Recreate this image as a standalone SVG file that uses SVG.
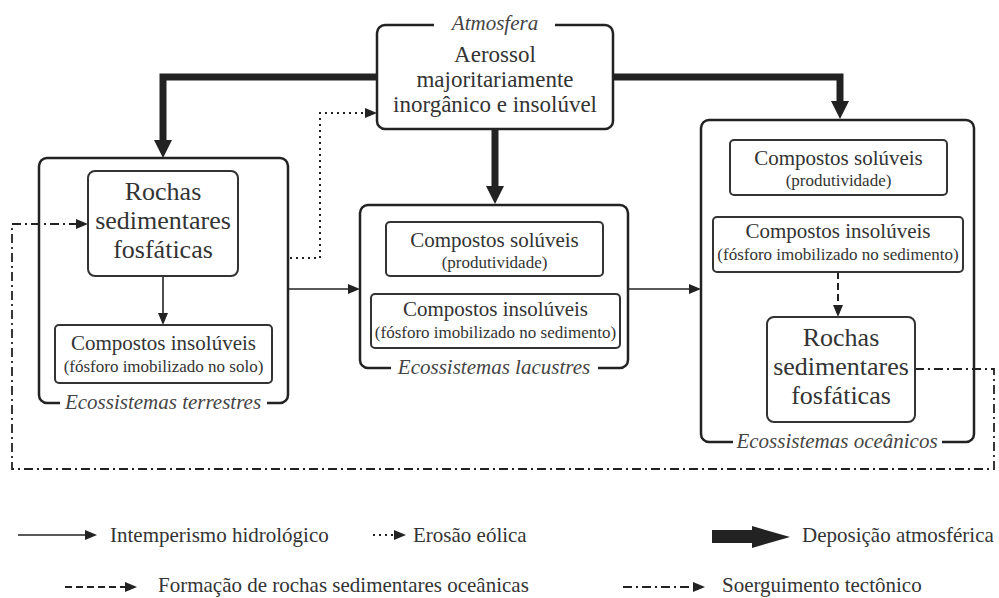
<svg xmlns="http://www.w3.org/2000/svg" width="999" height="598" viewBox="0 0 999 598" font-family="Liberation Serif, DejaVu Serif, serif">
<style>
text{font-family:'Liberation Serif',serif;fill:#333}
.outer{fill:none;stroke:#222;stroke-width:2.5}
.inner{fill:#fff;stroke:#333;stroke-width:2}
.lab{font-style:italic;font-size:21px;fill:#444}
.big{font-size:26px}
.mid{font-size:21px}
.sub{font-size:17px}
.atm{font-size:23px}
.leg{font-size:21px}
.thin{fill:none;stroke:#222;stroke-width:1.6}
.thick{fill:none;stroke:#222;stroke-width:7}
.dot{stroke-dasharray:2 4;stroke-width:2}
.dash{stroke-dasharray:7 4;stroke-width:2}
.dd{stroke-dasharray:9 4 2 4;stroke-width:1.8}
</style>
<defs>
<marker id="ah" markerUnits="userSpaceOnUse" markerWidth="12" markerHeight="10" viewBox="0 0 12 10" refX="0" refY="5" orient="auto"><path d="M0,0 L12,5 L0,10 z" fill="#222"/></marker>
<marker id="big" markerUnits="userSpaceOnUse" markerWidth="18" markerHeight="18" viewBox="0 0 18 18" refX="0" refY="9" orient="auto"><path d="M0,0 L18,9 L0,18 z" fill="#222"/></marker>
</defs>
<rect width="999" height="598" fill="#fff"/>

<g id="connectors">
<path class="thick" d="M377,77 H163 V140" marker-end="url(#big)"/>
<path class="thick" d="M612,77 H840 V101" marker-end="url(#big)"/>
<path class="thick" d="M495,129 V186" marker-end="url(#big)"/>
<path class="thin" d="M163,276 V313" marker-end="url(#ah)"/>
<path class="thin" d="M288,289 H348" marker-end="url(#ah)"/>
<path class="thin" d="M628,289 H689" marker-end="url(#ah)"/>
<path class="thin dot" d="M290,258 H320 V113 H365" marker-end="url(#ah)"/>
<path class="thin dash" d="M838,272 V305" marker-end="url(#ah)"/>
<path class="thin dd" d="M915,369 H994 V469 H12 V224 H76" marker-end="url(#ah)"/>
</g>

<g id="atmosfera">
<rect x="377" y="25" width="236" height="104" rx="8" class="inner" style="stroke:#222;stroke-width:2.5"/>
<rect x="434" y="15" width="121" height="20" fill="#fff"/>
<text class="lab" x="495" y="30" text-anchor="middle">Atmosfera</text>
<text class="atm" x="495" y="62" text-anchor="middle">Aerossol</text>
<text class="atm" x="495" y="87" text-anchor="middle">majoritariamente</text>
<text class="atm" x="495" y="112" text-anchor="middle">inorgânico e insolúvel</text>
</g>

<g id="terrestres">
<rect x="39" y="158" width="249" height="245" rx="8" class="outer"/>
<rect x="60" y="393" width="207" height="20" fill="#fff"/>
<text class="lab" x="163" y="409" text-anchor="middle">Ecossistemas terrestres</text>
</g>
<g id="rochas-terrestres">
<rect x="88" y="171" width="150" height="105" rx="7" class="inner"/>
<text class="big" x="163" y="200" text-anchor="middle">Rochas</text>
<text class="big" x="163" y="229" text-anchor="middle">sedimentares</text>
<text class="big" x="163" y="258" text-anchor="middle">fosfáticas</text>
</g>
<g id="insoluveis-solo">
<rect x="55" y="325" width="217" height="58" rx="4" class="inner"/>
<text class="mid" x="163.5" y="350" text-anchor="middle">Compostos insolúveis</text>
<text class="sub" x="163.5" y="372" text-anchor="middle">(fósforo imobilizado no solo)</text>
</g>

<g id="lacustres">
<rect x="360" y="205" width="268" height="163" rx="8" class="outer"/>
<rect x="391" y="358" width="207" height="20" fill="#fff"/>
<text class="lab" x="494" y="374" text-anchor="middle">Ecossistemas lacustres</text>
</g>
<g id="soluveis-lacustres">
<rect x="386" y="222" width="217" height="54" rx="4" class="inner"/>
<text class="mid" x="494.5" y="247" text-anchor="middle">Compostos solúveis</text>
<text class="sub" x="494.5" y="268" text-anchor="middle">(produtividade)</text>
</g>
<g id="insoluveis-lacustres">
<rect x="371" y="294" width="249" height="54" rx="4" class="inner"/>
<text class="mid" x="495.5" y="316" text-anchor="middle">Compostos insolúveis</text>
<text class="sub" x="495.5" y="338" text-anchor="middle">(fósforo imobilizado no sedimento)</text>
</g>

<g id="oceanicos">
<rect x="701" y="120" width="273" height="322" rx="8" class="outer"/>
<rect x="733" y="432" width="209" height="20" fill="#fff"/>
<text class="lab" x="837" y="448" text-anchor="middle">Ecossistemas oceânicos</text>
</g>
<g id="soluveis-oceanicos">
<rect x="730" y="140" width="217" height="55" rx="4" class="inner"/>
<text class="mid" x="838.5" y="165" text-anchor="middle">Compostos solúveis</text>
<text class="sub" x="838.5" y="186" text-anchor="middle">(produtividade)</text>
</g>
<g id="insoluveis-oceanicos">
<rect x="713" y="217" width="250" height="55" rx="4" class="inner"/>
<text class="mid" x="838" y="238" text-anchor="middle">Compostos insolúveis</text>
<text class="sub" x="838" y="260" text-anchor="middle">(fósforo imobilizado no sedimento)</text>
</g>
<g id="rochas-oceanicos">
<rect x="767" y="317" width="148" height="105" rx="7" class="inner"/>
<text class="big" x="841" y="346" text-anchor="middle">Rochas</text>
<text class="big" x="841" y="375" text-anchor="middle">sedimentares</text>
<text class="big" x="841" y="404" text-anchor="middle">fosfáticas</text>
</g>

<g id="legend">
<path class="thin" d="M18,535 H85" marker-end="url(#ah)"/>
<text class="leg" x="110" y="542">Intemperismo hidrológico</text>
<path class="thin dot" d="M373,535 H394" marker-end="url(#ah)"/>
<text class="leg" x="413" y="542">Erosão eólica</text>
<polygon points="712,530 752,530 752,526 790,537 752,548 752,543 712,543" fill="#222"/>
<text class="leg" x="802" y="542">Deposição atmosférica</text>
<path class="thin dash" d="M65,587 H125" marker-end="url(#ah)"/>
<text class="leg" x="158" y="592">Formação de rochas sedimentares oceânicas</text>
<path class="thin dd" d="M623,587 H693" marker-end="url(#ah)"/>
<text class="leg" x="722" y="592">Soerguimento tectônico</text>
</g>
</svg>
